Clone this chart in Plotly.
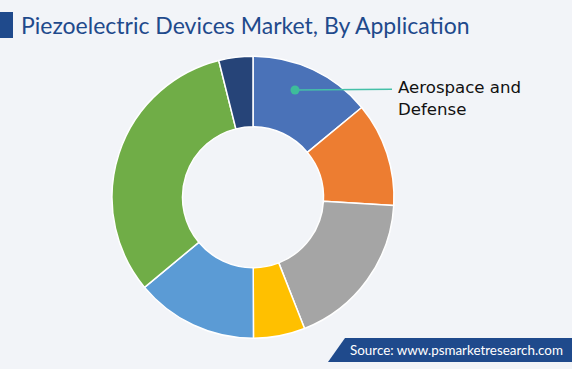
import plotly.graph_objects as go

W, H = 572, 369

categories = ["Aerospace and Defense", "Industrial and Manufacturing", "Automotive",
              "Consumer Electronics", "Healthcare", "Information and Communication", "Others"]
values = [14.0, 11.9, 18.1, 5.9, 14.0, 32.1, 3.9]
colors = ["#4a72b8", "#ed7d31", "#a5a5a5", "#ffc000", "#5b9bd5", "#70ad47", "#264478"]

title_text = "Piezoelectric Devices Market, By Application"
label_text = "Aerospace and<br>Defense"
source_text = "Source: www.psmarketresearch.com"

def px(x):
    return x / W

def py(y):
    return 1 - y / H

fig = go.Figure(go.Pie(
    labels=categories, values=values, hole=0.5, sort=False, direction="clockwise",
    rotation=0, marker=dict(colors=colors, line=dict(color="white", width=1.5)),
    textinfo="none", showlegend=False,
    domain=dict(x=[px(112), px(394)], y=[py(338.5), py(56)]),
))

shapes = [
    dict(type="rect", xref="paper", yref="paper", x0=px(0), x1=px(13), y0=py(38), y1=py(12),
         fillcolor="#1f4a8c", line=dict(width=0)),
    dict(type="path", xref="paper", yref="paper",
         path=f"M {px(328)} {py(362)} L {px(345)} {py(338)} L {px(572)} {py(338)} L {px(572)} {py(362)} Z",
         fillcolor="#1f4a8c", line=dict(width=0)),
    dict(type="line", xref="paper", yref="paper", x0=px(295), x1=px(392), y0=py(90), y1=py(89.3),
         line=dict(color="#45c0a8", width=1.5)),
    dict(type="circle", xref="paper", yref="paper", x0=px(290.5), x1=px(299.5), y0=py(94.5), y1=py(85.5),
         fillcolor="#3dbd9a", line=dict(width=0)),
]

annotations = [
    dict(text=title_text, x=px(19), y=py(25), xref="paper", yref="paper", xanchor="left", yanchor="middle",
         showarrow=False, font=dict(family="Lato", size=23, color="#1f4a8c")),
    dict(text=label_text, x=px(396), y=py(98), xref="paper", yref="paper", xanchor="left", yanchor="middle",
         showarrow=False, align="left", font=dict(family="DejaVu Sans", size=16.6, color="#111111")),
    dict(text=source_text, x=px(348), y=py(350), xref="paper", yref="paper", xanchor="left", yanchor="middle",
         showarrow=False, font=dict(family="Lato", size=13.4, color="white")),
]

fig.update_layout(
    width=W, height=H, margin=dict(l=0, r=0, t=0, b=0),
    paper_bgcolor="#f2f4f8", plot_bgcolor="#f2f4f8",
    shapes=shapes, annotations=annotations,
)

fig.write_html("out.html", config={"displayModeBar": False})
